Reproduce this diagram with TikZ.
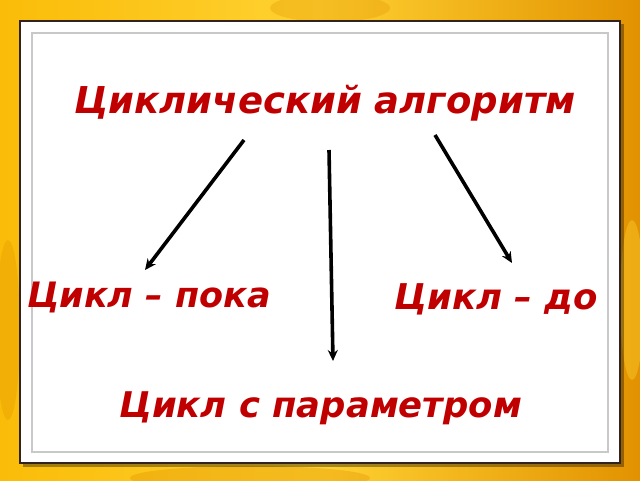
\documentclass[tikz,border=0pt]{standalone}
\usepackage{fontspec}
\setmainfont{DejaVu Sans}
\usetikzlibrary{arrows.meta}
\definecolor{gold}{RGB}{250,188,8}
\definecolor{goldd}{RGB}{226,146,0}
\definecolor{goldl}{RGB}{255,210,50}
\definecolor{txtred}{RGB}{192,0,0}
\definecolor{frame}{RGB}{50,35,30}
\definecolor{innerg}{RGB}{200,200,200}
\tikzset{
  lbl/.style={text=txtred, font=\fontsize{#1}{#1}\selectfont\bfseries\itshape, inner sep=0pt, anchor=base west},
  arr/.style={line width=3.6pt, -{Stealth[length=11pt,width=10pt]}, black},
}
\begin{document}
\begin{tikzpicture}[x=1pt,y=-1pt]
\useasboundingbox (0,0) rectangle (640,480);
% background
\shade[left color=gold, right color=goldd, middle color=goldl] (0,0) rectangle (640,480);
\begin{scope}
\clip (0,0) rectangle (640,480);
\fill[goldd,opacity=0.3] (330,8) ellipse (60 and 14);
\fill[goldd,opacity=0.3] (8,330) ellipse (12 and 90);
\fill[goldl,opacity=0.4] (632,300) ellipse (12 and 80);
\fill[goldd,opacity=0.35] (250,478) ellipse (120 and 12);
\end{scope}
% frame
\fill[black,opacity=0.35] (23,24) rectangle (624,467);
\draw[frame, line width=2pt, fill=white] (20,21) rectangle (620,463);
\draw[innerg, line width=2pt] (32,33) rectangle (608,452);
% texts
\node[lbl=37] (t) at (74,113) {Циклический алгоритм};
\node[lbl=35] (a) at (27,307) {Цикл – пока};
\node[lbl=35.5] (b) at (394,309) {Цикл – до};
\node[lbl=35.4] (c) at (119,417) {Цикл с параметром};
% arrows
\coordinate (s1) at (244,140);
\coordinate (e1) at (145,270);
\coordinate (s2) at (329,150);
\coordinate (e2) at (333,361);
\coordinate (s3) at (435,135);
\coordinate (e3) at (512,263);
\draw[arr] (s1) -- (e1);
\draw[arr] (s2) -- (e2);
\draw[arr] (s3) -- (e3);
\end{tikzpicture}
\end{document}
